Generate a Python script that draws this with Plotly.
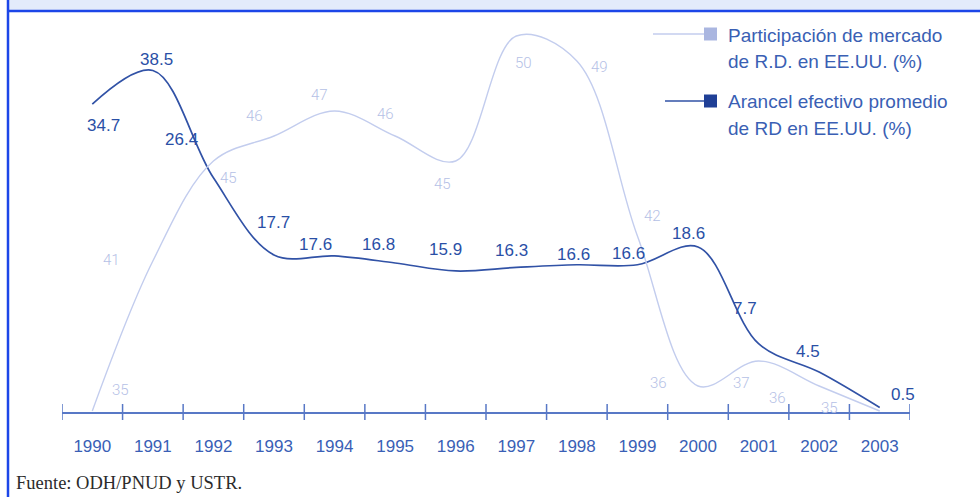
import plotly.graph_objects as go

# Years on the category axis
years = ["1990", "1991", "1992", "1993", "1994", "1995", "1996",
         "1997", "1998", "1999", "2000", "2001", "2002", "2003"]

# Participación de mercado de R.D. en EE.UU. (%)
market_share = [35, 41, 45, 46, 47, 46, 45, 50, 49, 42, 36, 37, 36, 35]

# Arancel efectivo promedio de RD en EE.UU. (%)
tariff = [34.7, 38.5, 26.4, 17.7, 17.6, 16.8, 15.9, 16.3, 16.6, 16.6,
          18.6, 7.7, 4.5, 0.5]

# Label offsets in pixels (dx, dy), dy positive = upward
share_offsets = [(28, 21), (-41, 1), (15, -17), (-20, 20), (-15, 16), (-10, 22),
                 (-13, -23), (7, -27), (23, -6), (15, 20), (-40, 3), (-17, -22),
                 (-42, -12), (-50, 3)]
tariff_offsets = [(11, -21), (4, 11), (-32, 38), (-1, 33), (-19, 11), (-17, 18),
                  (-10, 21), (-5, 17), (-3, 10), (-9, 11), (-10, 14), (-14, 35),
                  (-11, 21), (23, 13)]

W, H = 980, 497
ML, MR, MT, MB = 62, 70, 12, 85
PW, PH = W - ML - MR, H - MT - MB

LIGHT_LINE = "#c3cdee"
LIGHT_TEXT = "#b5c1e6"
DARK_LINE = "#3152a6"
DARK_TEXT = "#2a4fa6"
AXIS = "#5878c6"
FRAME = "#1c46e8"


def px(x):
    return (x - ML) / PW


def py(y):
    return (H - MB - y) / PH


xs = list(range(len(years)))

fig = go.Figure()
fig.add_trace(go.Scatter(
    x=xs, y=market_share, mode="lines", yaxis="y2",
    line=dict(color=LIGHT_LINE, width=1.4, shape="spline", smoothing=1.0),
    hoverinfo="skip", showlegend=False))
fig.add_trace(go.Scatter(
    x=xs, y=tariff, mode="lines", yaxis="y",
    line=dict(color=DARK_LINE, width=1.7, shape="spline", smoothing=1.0),
    hoverinfo="skip", showlegend=False))

annotations = []
for i, (v, (dx, dy)) in enumerate(zip(market_share, share_offsets)):
    annotations.append(dict(
        x=i, y=v, xref="x", yref="y2", text=str(v), showarrow=False,
        xshift=dx, yshift=dy,
        font=dict(family="Roboto", size=15, color=LIGHT_TEXT, weight=300)))
for i, (v, (dx, dy)) in enumerate(zip(tariff, tariff_offsets)):
    annotations.append(dict(
        x=i, y=v, xref="x", yref="y", text=f"{v:.1f}", showarrow=False,
        xshift=dx, yshift=dy,
        font=dict(family="Liberation Sans", size=17, color=DARK_TEXT)))

# Legend block: (two text lines, line colour, marker colour, row y, line start x)
legend_items = [
    (("Participación de mercado", "de R.D. en EE.UU. (%)"), LIGHT_LINE, "#aab6e0", 34, 653),
    (("Arancel efectivo promedio", "de RD en EE.UU. (%)"), DARK_LINE, "#1f3f96", 101, 665),
]
shapes = []
for lines, lc, mc, yy, x0 in legend_items:
    shapes.append(dict(type="line", xref="paper", yref="paper",
                       x0=px(x0), x1=px(708), y0=py(yy), y1=py(yy),
                       line=dict(color=lc, width=1.5)))
    shapes.append(dict(type="rect", xref="paper", yref="paper",
                       x0=px(704), x1=px(717), y0=py(yy - 6.5), y1=py(yy + 6.5),
                       fillcolor=mc, line=dict(width=0)))
    for k, t in enumerate(lines):
        annotations.append(dict(
            x=px(726), y=py(yy + 1 + 26.5 * k), xref="paper", yref="paper", text=t,
            showarrow=False, xanchor="left", yanchor="middle", align="left",
            font=dict(family="Liberation Sans", size=19, color="#3a5fb4")))

# Tick marks at the category boundaries, crossing the axis line
for i in range(len(years) + 1):
    shapes.append(dict(type="line", xref="x", yref="paper",
                       x0=i - 0.5, x1=i - 0.5, y0=py(H - MB + 8), y1=py(H - MB - 8),
                       line=dict(color=AXIS, width=1.5)))

# Frame: header band, rule under it and left border
shapes.append(dict(type="rect", xref="paper", yref="paper", layer="below",
                   x0=px(9), x1=px(W), y0=py(0), y1=py(10),
                   fillcolor="#e3ebfb", line=dict(width=0)))
shapes.append(dict(type="line", xref="paper", yref="paper",
                   x0=px(7), x1=px(W), y0=py(11), y1=py(11),
                   line=dict(color=FRAME, width=2.5)))
shapes.append(dict(type="line", xref="paper", yref="paper",
                   x0=px(8), x1=px(8), y0=py(0), y1=py(H),
                   line=dict(color=FRAME, width=2.5)))

annotations.append(dict(
    x=px(14), y=py(483), xref="paper", yref="paper",
    text="Fuente: ODH/PNUD y USTR.", showarrow=False,
    xanchor="left", yanchor="middle",
    font=dict(family="Liberation Serif", size=18.5, color="#2b2b2b")))

fig.update_layout(
    width=W, height=H,
    margin=dict(l=ML, r=MR, t=MT, b=MB),
    paper_bgcolor="white", plot_bgcolor="white",
    xaxis=dict(range=[-0.5, len(years) - 0.5], tickvals=xs, ticktext=years,
               ticks="", showgrid=False, zeroline=False,
               showline=True, linecolor=AXIS, linewidth=2,
               ticklabelstandoff=18,
               tickfont=dict(family="Liberation Sans", size=17, color="#3a5fb6")),
    yaxis=dict(range=[0, PH / 8.87], visible=False, showgrid=False),
    yaxis2=dict(range=[35 - 1 / 25, 35 + (PH - 1) / 25], overlaying="y",
                visible=False, showgrid=False),
    annotations=annotations,
    shapes=shapes,
    showlegend=False,
)

fig.write_html("out.html")
